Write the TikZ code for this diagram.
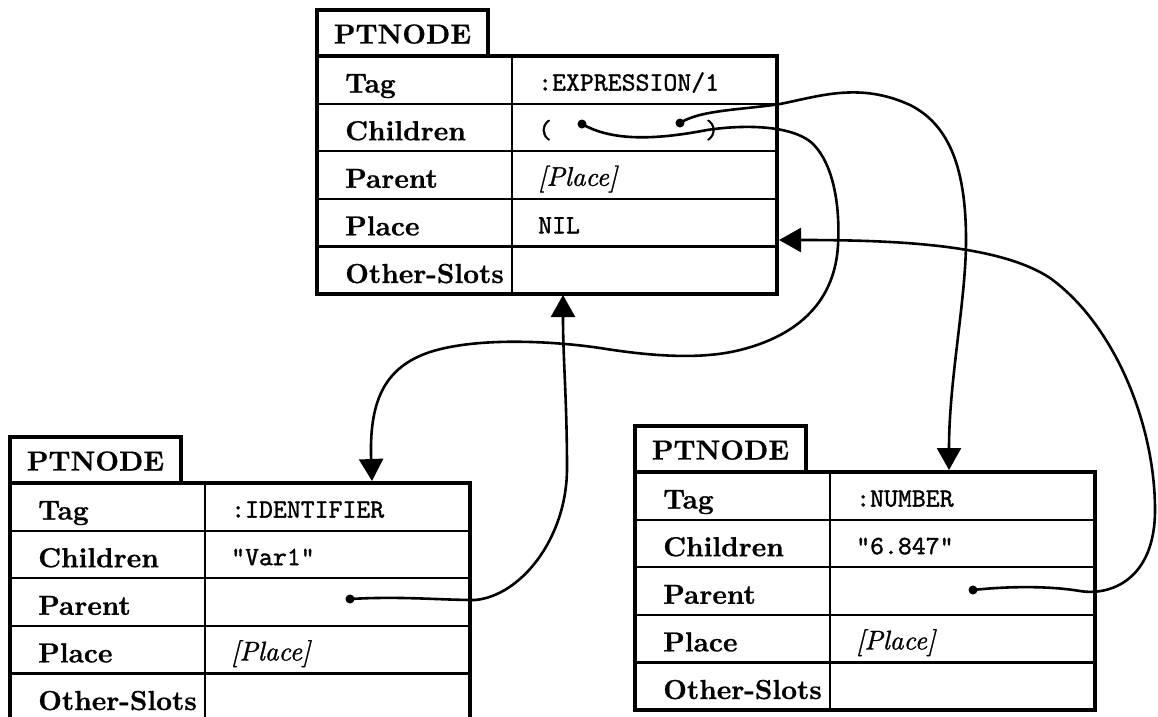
\documentclass[tikz,border=0pt]{standalone}
\usepackage{fontspec}
\usetikzlibrary{arrows.meta,calc}

% slightly heavier faces, like a printed page
\newfontfamily\lblfont{lmroman10-bold.otf}[FakeBold=0.7]
\newfontfamily\valfont{lmmono10-regular.otf}[FakeBold=1.2]
\newfontfamily\itfont{lmroman10-italic.otf}[FakeBold=1.0]

\tikzset{
  slotframe/.style={draw, line width=4pt, inner sep=0pt, outer sep=0pt,
    minimum width=460pt, minimum height=238pt},
  tabbox/.style={draw, line width=4pt, inner sep=0pt, outer sep=0pt,
    minimum width=171pt, minimum height=46pt, text height=21pt, text depth=0pt,
    font=\fontsize{27.5}{31}\lblfont},
  rowline/.style={line width=2.2pt},
  slotlabel/.style={anchor=base west, inner sep=0pt,
    font=\fontsize{27.5}{31}\lblfont},
  slotvalue/.style={anchor=base west, inner sep=0pt,
    font=\fontsize{26.5}{30}\valfont},
  knob/.style={circle, fill, inner sep=0pt, minimum size=9pt},
  ptr/.style={line width=2.6pt, -{Triangle[width=24pt,length=22pt]}},
}

% One PTNODE record: #1 name, (#2,#3) top-left corner of the slot table,
% #4..#7 the values of Tag, Children, Parent and Place.
\newcommand\ptnode[7]{%
  \begin{scope}[shift={(#2,#3)}]
    \node[slotframe, anchor=north west] (#1) at (0,0) {};
    \node[tabbox, anchor=south west] (#1-tab) at (0,0) {PTNODE};
    \foreach \r in {1,...,4}
      \draw[rowline] (0,\r*47.6) -- (460,\r*47.6);
    \draw[rowline] (195,0) -- (195,238);
    \foreach [count=\k] \l in {Tag,Children,Parent,Place,Other-Slots}
      \node[slotlabel] (#1-l\k) at (28,\k*47.6-11) {\l};
    \node[slotvalue] (#1-tag)   at (221,1*47.6-13) {#4};
    \node[slotvalue] (#1-kids)  at (221,2*47.6-13) {#5};
    \node[slotvalue] (#1-par)   at (221,3*47.6-13) {#6};
    \node[slotvalue] (#1-place) at (221,4*47.6-13) {#7};
  \end{scope}}

\newcommand\placeref{{\fontsize{27}{30}\itfont [Place]}}

\begin{document}
\begin{tikzpicture}[x=1pt, y=-1pt]
  \useasboundingbox (0,0) rectangle (1158,716);
  \fill[white] (0,0) rectangle (1158,716);
  \clip (0,0) rectangle (1158,716);

  % the three parse-tree records
  \ptnode{E}{317}{56}{:EXPRESSION/1}{(}{\placeref}{NIL}
  \ptnode{I}{10}{483}{:IDENTIFIER}{"Var1"}{}{\placeref}
  \ptnode{N}{635}{472}{:NUMBER}{"6.847"}{}{\placeref}
  \node[slotvalue] (E-rp) at ($(E-kids.base west)+(167,0)$) {)};

  % pointer origins
  \node[knob] (E-c1) at (582,124) {};
  \node[knob] (E-c2) at (680,123) {};
  \node[knob] (I-pp) at (350,599) {};
  \node[knob] (N-pp) at (973,590) {};

  % pointer targets
  \coordinate (E-in) at (563,295);
  \coordinate (I-in) at (372,481);
  \coordinate (N-in) at (949,470);
  \coordinate (E-pl) at (779,240);

  % first child -> IDENTIFIER record
  \draw[ptr] (E-c1.center) .. controls (610,140) and (650,141) .. (707,130)
    .. controls (740,125) and (790,124) .. (812,143)
    .. controls (835,165) and (840,210) .. (838,245)
    .. controls (835,300) and (800,335) .. (740,350)
    .. controls (700,360) and (650,356) .. (600,348)
    .. controls (560,342) and (480,336) .. (430,352)
    .. controls (385,367) and (370,400) .. (371,455) -- (I-in);

  % second child -> NUMBER record
  \draw[ptr] (E-c2.center) .. controls (700,110) and (740,110) .. (780,104)
    .. controls (820,96) and (860,82) .. (910,105)
    .. controls (950,125) and (966,170) .. (966,240)
    .. controls (966,300) and (949,380) .. (949,448) -- (N-in);

  % IDENTIFIER parent -> EXPRESSION record
  \draw[ptr] (I-pp.center) .. controls (400,596) and (440,600) .. (475,600)
    .. controls (520,596) and (566,540) .. (567,470)
    .. controls (567,400) and (563,360) .. (563,318) -- (E-in);

  % NUMBER parent -> Place slot of EXPRESSION record
  \draw[ptr] (N-pp.center) .. controls (1010,586) and (1050,586) .. (1080,591)
    .. controls (1110,596) and (1155,580) .. (1155,510)
    .. controls (1155,425) and (1115,325) .. (1050,278)
    .. controls (1000,245) and (900,240) .. (803,240) -- (E-pl);
\end{tikzpicture}
\end{document}
